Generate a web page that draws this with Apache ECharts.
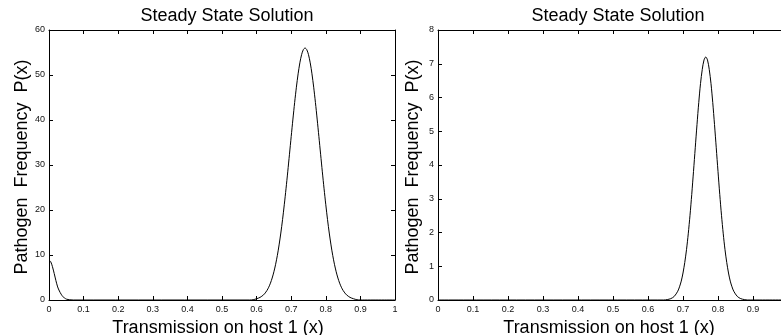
<!DOCTYPE html>
<html>
<head>
<meta charset="utf-8">
<script src="https://cdn.jsdelivr.net/npm/echarts@6/dist/echarts.min.js"></script>
<style>
  html, body { margin: 0; padding: 0; background: #fff; }
  #chart { width: 781px; height: 335px; }
</style>
</head>
<body>
<div id="chart"></div>
<script>
// left panel: P(x)
const leftX = [0, 0.005, 0.01, 0.015, 0.02, 0.025, 0.03, 0.035, 0.04, 0.045, 0.05, 0.06, 0.07,
  0.58, 0.59, 0.60, 0.61, 0.62, 0.625, 0.63, 0.635, 0.64, 0.645, 0.65, 0.655, 0.66, 0.665,
  0.67, 0.675, 0.68, 0.685, 0.69, 0.695, 0.70, 0.705, 0.71, 0.715, 0.72, 0.725, 0.73, 0.735,
  0.74, 0.745, 0.75, 0.755, 0.76, 0.765, 0.77, 0.775, 0.78, 0.785, 0.79, 0.795, 0.80, 0.805,
  0.81, 0.815, 0.82, 0.825, 0.83, 0.835, 0.84, 0.845, 0.85, 0.855, 0.86, 0.87, 0.88, 0.89, 0.90, 1];
const leftY = [8.9, 8.5, 7.4, 5.9, 4.3, 2.9, 2.0, 1.3, 0.75, 0.45, 0.2, 0.05, 0,
  0, 0.06, 0.28, 0.58, 1.14, 1.57, 2.12, 2.84, 3.75, 4.88, 6.27, 7.94, 9.92, 12.24,
  14.88, 17.86, 21.16, 24.71, 28.48, 32.39, 36.33, 40.21, 43.91, 47.29, 50.26, 52.7, 54.51, 55.62,
  56, 55.62, 54.51, 52.7, 50.26, 47.29, 43.91, 40.21, 36.33, 32.39, 28.48, 24.71, 21.16, 17.86,
  14.88, 12.24, 9.92, 7.94, 6.27, 4.88, 3.75, 2.84, 2.12, 1.57, 1.14, 0.58, 0.28, 0.06, 0, 0];

// right panel
const rightX = [0, 0.645, 0.655, 0.665, 0.675, 0.685, 0.69, 0.695, 0.70, 0.705, 0.71, 0.715, 0.72,
  0.725, 0.73, 0.735, 0.74, 0.745, 0.75, 0.755, 0.76, 0.765, 0.77, 0.775, 0.78, 0.785, 0.79,
  0.795, 0.80, 0.805, 0.81, 0.815, 0.82, 0.825, 0.83, 0.835, 0.84, 0.845, 0.855, 0.865, 0.875, 0.885, 1];
const rightY = [0, 0, 0.013, 0.04, 0.107, 0.26, 0.39, 0.56, 0.8, 1.11, 1.49, 1.96, 2.51,
  3.13, 3.81, 4.51, 5.2, 5.85, 6.41, 6.83, 7.11, 7.2, 7.11, 6.83, 6.41, 5.85, 5.2,
  4.51, 3.81, 3.13, 2.51, 1.96, 1.49, 1.11, 0.8, 0.56, 0.39, 0.26, 0.107, 0.04, 0.013, 0, 0];

const titleText = 'Steady State Solution';
const xName = 'Transmission on host 1 (x)';
const yName = 'Pathogen  Frequency  P(x)';
const leftYMax = 60, leftYStep = 10;
const rightYMax = 8, rightYStep = 1;

const font = '"Liberation Sans", Arial, Helvetica, sans-serif';
const chart = echarts.init(document.getElementById('chart'));

const pairs = (xs, ys) => xs.map((x, i) => [x, ys[i]]);

const line = { show: true, onZero: false, lineStyle: { color: '#000', width: 1 } };
const tick = { show: true, inside: true, length: 4, lineStyle: { color: '#000', width: 1 } };

function xAxes(grid) {
  return [
    {
      gridIndex: grid, type: 'value', min: 0, max: 1, interval: 0.1, position: 'bottom',
      name: xName, nameLocation: 'middle', nameGap: 8,
      nameTextStyle: { fontFamily: font, fontSize: 18, color: '#000', padding: [0, 8, 0, 0] },
      axisLine: line, axisTick: tick,
      axisLabel: { fontFamily: font, fontSize: 9, color: '#111', margin: 5 },
      splitLine: { show: false }
    },
    {
      gridIndex: grid, type: 'value', min: 0, max: 1, interval: 0.1, position: 'top',
      axisLine: line, axisTick: tick,
      axisLabel: { show: false },
      splitLine: { show: false }
    }
  ];
}

function yAxes(grid, max, step) {
  return [
    {
      gridIndex: grid, type: 'value', min: 0, max: max, interval: step, position: 'left',
      name: yName, nameLocation: 'middle', nameGap: 16, nameRotate: 90,
      nameTextStyle: { fontFamily: font, fontSize: 18, color: '#000', padding: [0, 4, 0, 0] },
      axisLine: line, axisTick: tick,
      axisLabel: { fontFamily: font, fontSize: 9, color: '#111', margin: 4 },
      splitLine: { show: false }
    },
    {
      gridIndex: grid, type: 'value', min: 0, max: max, interval: step, position: 'right',
      axisLine: line, axisTick: tick,
      axisLabel: { show: false },
      splitLine: { show: false }
    }
  ];
}

const option = {
  backgroundColor: '#fff',
  animation: false,
  title: [
    { text: titleText, left: 222, top: 2, textAlign: 'center',
      textStyle: { fontFamily: font, fontSize: 18, fontWeight: 'normal', color: '#000' } },
    { text: titleText, left: 613, top: 2, textAlign: 'center',
      textStyle: { fontFamily: font, fontSize: 18, fontWeight: 'normal', color: '#000' } }
  ],
  grid: [
    { left: 49, top: 30, width: 346, height: 270, containLabel: false, outerBoundsMode: 'none' },
    { left: 438, top: 30, width: 350, height: 270, containLabel: false, outerBoundsMode: 'none' }
  ],
  xAxis: [...xAxes(0), ...xAxes(1)],
  yAxis: [...yAxes(0, leftYMax, leftYStep), ...yAxes(1, rightYMax, rightYStep)],
  series: [
    {
      type: 'line', xAxisIndex: 0, yAxisIndex: 0, data: pairs(leftX, leftY),
      smooth: 0.3, showSymbol: false, lineStyle: { color: '#000', width: 1 }
    },
    {
      type: 'line', xAxisIndex: 2, yAxisIndex: 2, data: pairs(rightX, rightY),
      smooth: 0.3, showSymbol: false, lineStyle: { color: '#000', width: 1 }
    }
  ]
};

chart.setOption(option);
</script>
</body>
</html>
